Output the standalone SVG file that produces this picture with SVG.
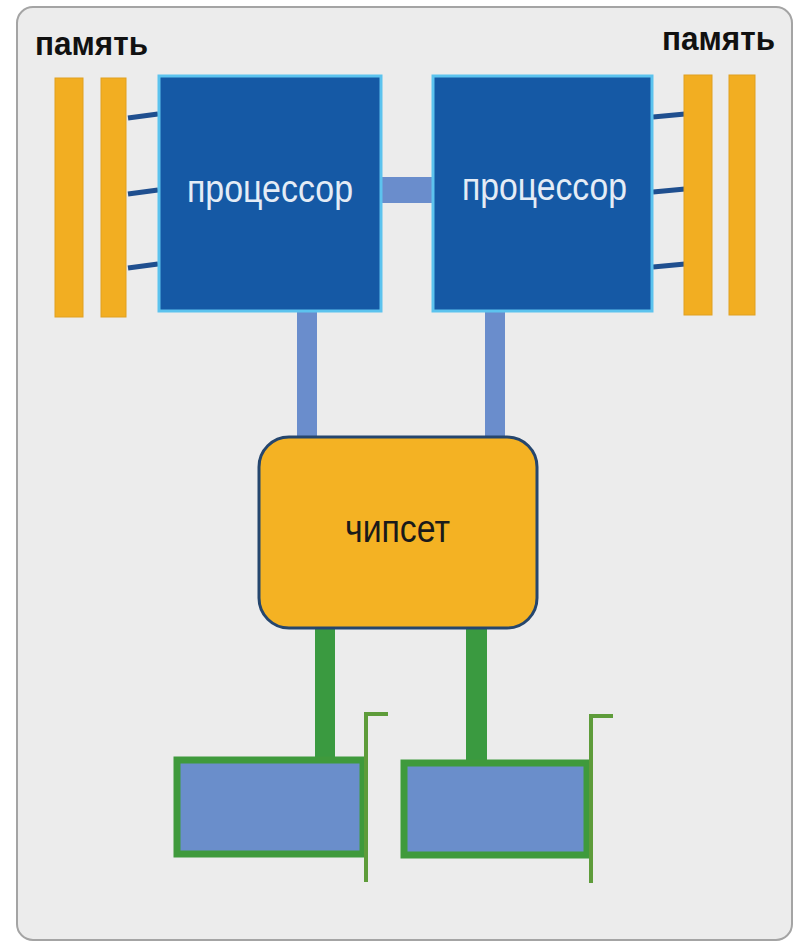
<svg xmlns="http://www.w3.org/2000/svg" width="795" height="943" viewBox="0 0 795 943">
<style>
.mem{fill:#f2ae22;stroke:#e0a020;stroke-width:1}
.cpu{fill:#1559a5;stroke:#5cc3ee;stroke-width:3}
.bus{fill:#6a8dcc}
.memlink{stroke:#1f4f8f;stroke-width:5;fill:none}
.pcie{fill:#3a9a40}
.card{fill:#6a8ecb;stroke:#3f9a3c;stroke-width:7}
.bracket{stroke:#5e9c3a;stroke-width:4;fill:none}
.lbl{font-family:"Liberation Sans",Arial,sans-serif;}
</style>
<rect x="0" y="0" width="795" height="943" fill="#ffffff"/>
<rect id="frame" x="17" y="7" width="775" height="933" rx="16" fill="#ececec" stroke="#a4a4a4" stroke-width="2"/>
<g id="connectors">
<rect class="bus" x="380" y="177" width="54" height="26"/>
<rect class="bus" x="297" y="310" width="20" height="129"/>
<rect class="bus" x="485" y="310" width="20" height="129"/>
<path class="memlink" d="M128 118 L158 114 M128 194 L158 190 M128 268 L158 264"/>
<path class="memlink" d="M653 117 L685 114 M653 192 L685 189 M653 267 L685 264"/>
<rect class="pcie" x="315" y="626" width="20" height="134"/>
<rect class="pcie" x="466" y="626" width="21" height="136"/>
</g>
<g id="mem-left">
<rect class="mem" x="55" y="78" width="28" height="239"/>
<rect class="mem" x="101" y="78" width="25" height="239"/>
<text class="lbl" x="35" y="55" font-size="34" font-weight="bold" textLength="113" lengthAdjust="spacingAndGlyphs" fill="#111">память</text>
</g>
<g id="mem-right">
<rect class="mem" x="684" y="75" width="28" height="240"/>
<rect class="mem" x="729" y="75" width="26" height="240"/>
<text class="lbl" x="662" y="50" font-size="34" font-weight="bold" textLength="113" lengthAdjust="spacingAndGlyphs" fill="#111">память</text>
</g>
<g id="cpu-left">
<rect class="cpu" x="159" y="76" width="222" height="235"/>
<text class="lbl" x="187" y="202" font-size="38" textLength="166" lengthAdjust="spacingAndGlyphs" fill="#e4ecf6">процессор</text>
</g>
<g id="cpu-right">
<rect class="cpu" x="433" y="76" width="219" height="235"/>
<text class="lbl" x="462" y="200" font-size="38" textLength="165" lengthAdjust="spacingAndGlyphs" fill="#e4ecf6">процессор</text>
</g>
<g id="chipset">
<rect x="259" y="437" width="278" height="191" rx="30" fill="#f4b223" stroke="#25466e" stroke-width="3"/>
<text class="lbl" x="345" y="542" font-size="39" textLength="105" lengthAdjust="spacingAndGlyphs" fill="#1a1a1a">чипсет</text>
</g>
<g id="card-left">
<rect class="card" x="177" y="760" width="186" height="94"/>
<path class="bracket" d="M366 882 L366 714 L388 714"/>
</g>
<g id="card-right">
<rect class="card" x="404" y="763" width="183" height="92"/>
<path class="bracket" d="M591 883 L591 716 L613 716"/>
</g>
</svg>
